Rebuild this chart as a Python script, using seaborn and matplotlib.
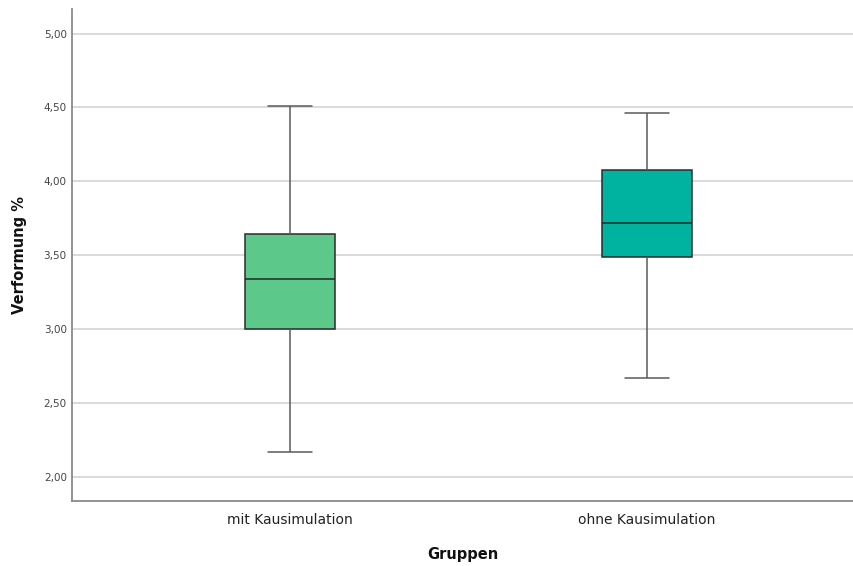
import numpy as np
import pandas as pd
import seaborn as sns
import matplotlib
matplotlib.use("Agg")
import matplotlib.pyplot as plt
from matplotlib.ticker import FuncFormatter, FixedLocator

# ---- data ----
groups = ["mit Kausimulation", "ohne Kausimulation"]
# five-number summaries: min, Q1, median, Q3, max
mit_values = [2.165, 3.00, 3.34, 3.64, 4.51]
ohne_values = [2.665, 3.49, 3.715, 4.08, 4.46]
box_colors = ["#5cc98a", "#00b3a0"]
y_ticks = [2.0, 2.5, 3.0, 3.5, 4.0, 4.5, 5.0]
x_label = "Gruppen"
y_label = "Verformung %"

df = pd.DataFrame({
    "Gruppen": [groups[0]] * len(mit_values) + [groups[1]] * len(ohne_values),
    "Verformung": mit_values + ohne_values,
})

sns.set_style("white")
plt.rcParams["font.family"] = ["DejaVu Sans"]

fig = plt.figure(figsize=(8.54, 5.66), dpi=100)
ax = fig.add_axes([0.0847, 0.1154, 0.9153, 0.8682])

sns.boxplot(
    data=df, x="Gruppen", y="Verformung", hue="Gruppen",
    palette=box_colors, order=groups, hue_order=groups, saturation=1,
    width=0.25, whis=(0, 100), linecolor="#2b2b2b", linewidth=1.1,
    whiskerprops={"color": "#5a5a5a"}, capprops={"color": "#5a5a5a"},
    medianprops={"color": "#1e2b26"},
    legend=False, ax=ax,
)

ax.set_ylim(1.8375, 5.165)
ax.set_xlim(-0.61, 1.58)
ax.yaxis.set_major_locator(FixedLocator(y_ticks))
ax.yaxis.set_major_formatter(FuncFormatter(lambda v, p: f"{v:.2f}".replace(".", ",")))

ax.yaxis.grid(True, color="#d9d9d9", linewidth=1.4)
ax.xaxis.grid(False)
ax.set_axisbelow(True)

for s in ["top", "right"]:
    ax.spines[s].set_visible(False)
for s in ["left", "bottom"]:
    ax.spines[s].set_color("#8a8a8a")
    ax.spines[s].set_linewidth(1.3)

ax.tick_params(axis="y", length=0, pad=4, labelsize=7.5, labelcolor="#444444")
ax.tick_params(axis="x", length=0, pad=9, labelsize=10, labelcolor="#222222")

ax.set_xlabel(x_label, fontsize=10.5, fontweight="bold", labelpad=14, color="#111111")
ax.set_ylabel(y_label, fontsize=10.5, fontweight="bold", labelpad=12, color="#111111")

fig.savefig("out.png", dpi=100)
